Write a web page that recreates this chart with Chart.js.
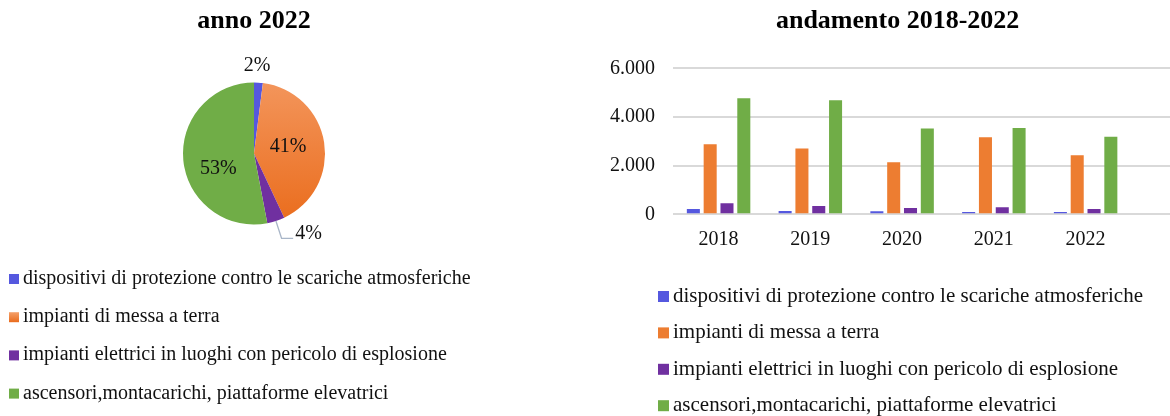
<!DOCTYPE html>
<html>
<head>
<meta charset="utf-8">
<script src="https://cdn.jsdelivr.net/npm/chart.js@4/dist/chart.umd.min.js"></script>
<style>
html, body { margin: 0; padding: 0; background: #fff; overflow: hidden; }
#wrap { position: relative; width: 1170px; height: 416px; overflow: hidden; background: #fff; }
#pieBox { position: absolute; left: 0; top: 0; width: 508px; height: 416px; }
#barBox { position: absolute; left: 580px; top: 0; width: 623px; height: 416px; }
</style>
</head>
<body>
<div id="wrap">
  <div id="pieBox"><canvas id="pie"></canvas></div>
  <div id="barBox"><canvas id="bar"></canvas></div>
</div>
<script>
// ---------- data ----------
const categories = ['2018', '2019', '2020', '2021', '2022'];
const seriesNames = [
  'dispositivi di protezione contro le scariche atmosferiche',
  'impianti di messa a terra',
  'impianti elettrici in luoghi con pericolo di esplosione',
  'ascensori,montacarichi, piattaforme elevatrici'
];
const dispositivi      = [220, 137, 123, 96, 90];
const messaATerra      = [2880, 2700, 2140, 3165, 2425];
const luoghiEsplosione = [450, 340, 260, 290, 220];
const ascensori        = [4770, 4690, 3530, 3550, 3190];
const pieShares2022    = [2, 41, 4, 53];
const yTicks           = [0, 2000, 4000, 6000];
const pieTitle = 'anno 2022';
const barTitle = 'andamento 2018-2022';

// ---------- styles ----------
const FONT = "'Liberation Serif', 'Times New Roman', serif";
const seriesColors = ['#5558df', '#ed7d31', '#7030a0', '#70ad47'];
const pieColors = ['#5558df', '#ed7d31', '#7030a0', '#70ad47'];
Chart.defaults.font.family = FONT;
Chart.defaults.color = '#111';

function fmtIt(v) { return String(v).replace(/\B(?=(\d{3})+(?!\d))/g, '.'); }

// ---------- pie labels plugin ----------
const pieLabelPlugin = {
  id: 'pieLabels',
  afterDatasetsDraw(chart, _a, o) {
    const ctx = chart.ctx;
    const arcs = chart.getDatasetMeta(0).data;
    const vals = chart.data.datasets[0].data;
    ctx.save();
    ctx.font = o.font;
    ctx.fillStyle = o.color;
    arcs.forEach((arc, i) => {
      const p = arc.getProps(['x', 'y', 'startAngle', 'endAngle', 'outerRadius'], true);
      const a = (p.startAngle + p.endAngle) / 2;
      const pl = o.placement[i];
      const txt = vals[i] + '%';
      const px = p.x + Math.cos(a) * p.outerRadius * pl.r + (pl.dx || 0);
      const py = p.y + Math.sin(a) * p.outerRadius * pl.r + (pl.dy || 0);
      if (pl.leader) {
        const sx = p.x + Math.cos(a) * p.outerRadius;
        const sy = p.y + Math.sin(a) * p.outerRadius;
        ctx.strokeStyle = o.leaderColor;
        ctx.lineWidth = 1.3;
        ctx.beginPath();
        ctx.moveTo(sx, sy);
        ctx.lineTo(px, py);
        ctx.lineTo(px + pl.run, py);
        ctx.stroke();
        ctx.textAlign = 'left';
        ctx.textBaseline = 'alphabetic';
        ctx.fillText(txt, px + pl.run + 2, py + 1);
      } else {
        ctx.textAlign = 'center';
        ctx.textBaseline = 'middle';
        ctx.fillText(txt, px, py);
      }
    });
    ctx.restore();
  }
};

// ---------- vertical list legend drawn under each chart ----------
const listLegend = {
  id: 'listLegend',
  afterDraw(chart, _a, o) {
    const ctx = chart.ctx;
    ctx.save();
    ctx.font = o.size + 'px ' + FONT;
    ctx.textAlign = 'left';
    ctx.textBaseline = 'alphabetic';
    o.names.forEach((name, i) => {
      const base = o.firstBaseline + i * o.step;
      const top = base - o.sw;
      let fill = o.colors[i];
      if (o.gradient && o.gradient[i]) {
        const g = ctx.createLinearGradient(0, top, 0, base);
        g.addColorStop(0, o.gradient[i][0]);
        g.addColorStop(1, o.gradient[i][1]);
        fill = g;
      }
      ctx.fillStyle = fill;
      ctx.fillRect(o.left, top, o.sw, o.sw);
      ctx.fillStyle = o.color;
      ctx.fillText(name, o.left + o.sw + o.gap, base);
    });
    ctx.restore();
  }
};

// ---------- category axis shorter than the plot area (gridlines run on) ----------
const narrowCategoryAxis = {
  id: 'narrowX',
  afterLayout(chart, _a, o) {
    const s = chart.scales.x;
    s.right = s.left + o.length;
    s.width = o.length;
    s.configure();
  }
};

// ---------- pie ----------
new Chart(document.getElementById('pie'), {
  type: 'pie',
  data: {
    labels: seriesNames,
    datasets: [{
      data: pieShares2022,
      backgroundColor: (c) => {
        const i = c.dataIndex;
        if (i === 1 && c.chart.chartArea) {
          const { top, bottom } = c.chart.chartArea;
          const g = c.chart.ctx.createLinearGradient(0, top, 0, bottom);
          g.addColorStop(0, '#f3955b');
          g.addColorStop(1, '#ea6c1c');
          return g;
        }
        return pieColors[i];
      },
      borderWidth: 0,
      hoverOffset: 0
    }]
  },
  options: {
    responsive: true,
    maintainAspectRatio: false,
    animation: false,
    layout: { padding: { left: 0, right: 0, top: 0, bottom: 191.5 } },
    plugins: {
      legend: { display: false },
      tooltip: { enabled: false },
      title: {
        display: true, text: pieTitle, color: '#000',
        font: { family: FONT, size: 26, weight: 'bold', lineHeight: 1.2 },
        padding: { top: 6, bottom: 45.3 }
      },
      pieLabels: {
        font: "20px 'Liberation Serif', 'Times New Roman', serif",
        color: '#111',
        leaderColor: '#a9b6c8',
        placement: [
          { r: 1.232, dx: -2.5, dy: 0 },
          { r: 0.485, dx: 0, dy: -1.2 },
          { r: 1.256, leader: true, run: 11.6 },
          { r: 0.505, dx: 0, dy: 11.4 }
        ]
      },
      listLegend: {
        names: seriesNames, colors: pieColors,
        gradient: [null, ['#f4a06a', '#e96b1c'], null, null],
        left: 9, size: 20, firstBaseline: 284, step: 38.2, sw: 10, gap: 4, color: '#111'
      }
    }
  },
  plugins: [pieLabelPlugin, listLegend]
});

// ---------- bars ----------
const barSeries = [dispositivi, messaATerra, luoghiEsplosione, ascensori];
new Chart(document.getElementById('bar'), {
  type: 'bar',
  data: {
    labels: categories,
    datasets: barSeries.map((d, i) => ({
      label: seriesNames[i],
      data: d,
      backgroundColor: seriesColors[i],
      borderWidth: 0,
      categoryPercentage: 0.733,
      barPercentage: 0.775
    }))
  },
  options: {
    responsive: true,
    maintainAspectRatio: false,
    animation: false,
    layout: { padding: { left: 12.3, right: 0, top: 0, bottom: 150.3 } },
    plugins: {
      legend: { display: false },
      tooltip: { enabled: false },
      title: {
        display: true, text: barTitle, color: '#000',
        font: { family: FONT, size: 26, weight: 'bold', lineHeight: 1.2 },
        padding: { top: 6, bottom: 31.1 }
      },
      narrowX: { length: 458.8 },
      listLegend: {
        names: seriesNames, colors: seriesColors,
        left: 78, size: 21, firstBaseline: 302, step: 36.4, sw: 11, gap: 4, color: '#111'
      }
    },
    scales: {
      x: {
        grid: { display: false, drawTicks: false },
        border: { display: false },
        ticks: { color: '#111', font: { family: FONT, size: 20 }, padding: 13.7 }
      },
      y: {
        min: 0, max: 6000,
        afterBuildTicks: (s) => { s.ticks = yTicks.map(v => ({ value: v })); },
        grid: { color: '#d9d9d9', lineWidth: 2, drawTicks: false },
        border: { display: false },
        ticks: { color: '#111', font: { family: FONT, size: 20 }, padding: 17.7, callback: (v) => fmtIt(v) }
      }
    }
  },
  plugins: [narrowCategoryAxis, listLegend]
});
</script>
</body>
</html>
